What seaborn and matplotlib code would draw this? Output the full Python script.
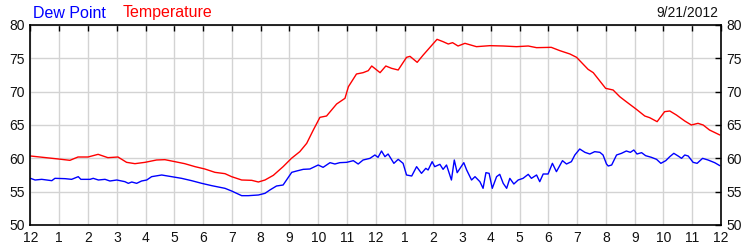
import matplotlib
matplotlib.use("Agg")
import matplotlib.pyplot as plt
import seaborn as sns
import pandas as pd

# Hours after midnight (9/21/2012) and readings in degrees F
temp_hours = [0.0, 0.97, 1.37, 1.65, 2.0, 2.35, 2.69, 3.04, 3.34, 3.63, 3.98, 4.38, 4.67,
              5.02, 5.36, 5.72, 6.06, 6.41, 6.76, 6.99, 7.34, 7.69, 7.92, 8.15, 8.44, 8.78,
              9.07, 9.36, 9.6, 9.83, 10.06, 10.29, 10.64, 10.93, 11.05, 11.33, 11.56, 11.74,
              11.86, 12.15, 12.35, 12.55, 12.78, 13.07, 13.19, 13.44, 13.65, 14.13, 14.34,
              14.52, 14.67, 14.86, 15.1, 15.5, 15.97, 16.43, 16.89, 17.3, 17.59, 18.1, 18.4,
              18.75, 18.98, 19.38, 19.56, 19.99, 20.25, 20.48, 20.66, 21.06, 21.35, 21.52,
              21.78, 22.04, 22.22, 22.45, 22.74, 22.97, 23.2, 23.38, 23.6, 23.96]
temp_values = [60.35, 59.9, 59.7, 60.2, 60.2, 60.6, 60.1, 60.2, 59.4, 59.2, 59.4, 59.75, 59.8,
               59.5, 59.2, 58.75, 58.4, 57.9, 57.7, 57.25, 56.75, 56.7, 56.45, 56.75, 57.45, 58.75,
               60.0, 61.0, 62.25, 64.25, 66.15, 66.35, 68.15, 69.0, 70.75, 72.65, 72.85, 73.15,
               73.85, 72.85, 73.85, 73.5, 73.25, 75.15, 75.3, 74.4, 75.5, 77.85, 77.5,
               77.15, 77.35, 76.85, 77.25, 76.75, 76.9, 76.85, 76.75, 76.85, 76.6, 76.65, 76.15,
               75.65, 75.15, 73.35, 72.85, 70.5, 70.25, 69.25, 68.65, 67.35, 66.35, 66.1,
               65.5, 67.0, 67.1, 66.5, 65.6, 65.0, 65.25, 65.0, 64.25, 63.5]

dew_hours = [0.0, 0.16, 0.39, 0.74, 0.85, 1.2, 1.43, 1.66, 1.75, 2.07, 2.18, 2.36, 2.59, 2.76,
             3.0, 3.28, 3.4, 3.52, 3.69, 3.86, 4.04, 4.21, 4.56, 4.91, 5.25, 5.6, 5.95, 6.3,
             6.76, 6.99, 7.34, 7.57, 7.92, 8.15, 8.32, 8.55, 8.78, 9.08, 9.25, 9.48, 9.71,
             10.0, 10.17, 10.41, 10.58, 10.75, 10.99, 11.22, 11.39, 11.56, 11.8, 11.97, 12.08,
             12.2, 12.32, 12.43, 12.63, 12.78, 12.95, 13.07, 13.25, 13.42, 13.59, 13.74, 13.82,
             13.96, 14.05, 14.23, 14.34, 14.46, 14.63, 14.73, 14.83, 15.06, 15.16, 15.33, 15.45,
             15.62, 15.73, 15.83, 15.94, 16.05, 16.2, 16.31, 16.43, 16.55, 16.66, 16.8, 16.95,
             17.12, 17.3, 17.41, 17.59, 17.7, 17.82, 17.99, 18.14, 18.28, 18.49, 18.63, 18.8,
             18.92, 19.09, 19.27, 19.44, 19.61, 19.79, 19.9, 20.02, 20.08, 20.2, 20.37, 20.54,
             20.71, 20.85, 20.97, 21.08, 21.24, 21.38, 21.58, 21.76, 21.91, 22.08, 22.22, 22.36,
             22.51, 22.63, 22.74, 22.86, 23.03, 23.17, 23.36, 23.55, 23.78, 23.96]
dew_values = [57.0, 56.75, 56.85, 56.65, 57.0, 56.95, 56.85, 57.25, 56.85, 56.85, 57.0, 56.75, 56.85, 56.6,
              56.75, 56.5, 56.25, 56.45, 56.25, 56.6, 56.75, 57.25, 57.5, 57.25, 57.0, 56.65, 56.25, 55.9,
              55.5, 55.1, 54.4, 54.4, 54.5, 54.75, 55.25, 55.85, 56.0, 57.9, 58.1, 58.35, 58.4,
              59.0, 58.65, 59.35, 59.15, 59.35, 59.4, 59.65, 59.15, 59.75, 60.0, 60.5, 60.15,
              61.1, 60.25, 60.65, 59.25, 59.85, 59.25, 57.5, 57.35, 58.75, 57.75, 58.5, 58.25,
              59.5, 58.75, 59.1, 58.35, 59.0, 56.75, 59.75, 57.85, 59.35, 58.25, 56.75, 57.25,
              56.5, 55.5, 57.85, 57.75, 55.5, 57.25, 57.6, 56.25, 55.5, 57.0, 56.15, 56.75,
              57.0, 57.6, 57.0, 57.5, 56.5, 57.65, 57.65, 59.25, 58.0, 59.65, 59.15, 59.5,
              60.5, 61.4, 60.9, 60.65, 61.0, 60.9, 60.5, 59.15, 58.85, 59.0, 60.5, 60.75,
              61.1, 60.9, 61.25, 60.65, 60.85, 60.4, 60.15, 59.85, 59.25, 59.65, 60.25, 60.75,
              60.35, 60.0, 60.5, 60.35, 59.4, 59.25, 60.0, 59.75, 59.35, 58.9]

x_tick_labels = ["12", "1", "2", "3", "4", "5", "6", "7", "8", "9", "10", "11",
                 "12", "1", "2", "3", "4", "5", "6", "7", "8", "9", "10", "11", "12"]
y_ticks = [50, 55, 60, 65, 70, 75, 80]
series_names = ["Dew Point", "Temperature"]
date_label = "9/21/2012"

sns.set_style("white")
plt.rcParams["font.family"] = ["Liberation Sans", "DejaVu Sans"]

fig = plt.figure(figsize=(7.5, 2.5), dpi=100)
ax = fig.add_axes([30.5 / 750, 25 / 250, (721 - 30.5) / 750, 200 / 250])

temp_df = pd.DataFrame({"hour": temp_hours, "value": temp_values})
dew_df = pd.DataFrame({"hour": dew_hours, "value": dew_values})

sns.lineplot(data=temp_df, x="hour", y="value", color="#ff0000", linewidth=1.0, ax=ax)
sns.lineplot(data=dew_df, x="hour", y="value", color="#0000ff", linewidth=1.0, ax=ax)

ax.set_xlim(0, 24)
ax.set_ylim(50, 80)
ax.set_xticks(range(25))
ax.set_xticklabels(x_tick_labels)
ax.set_yticks(y_ticks)
ax.set_yticklabels([str(v) for v in y_ticks])
ax.set_xlabel("")
ax.set_ylabel("")
ax.grid(True, color="#d3d3d3", linewidth=1.0)
ax.set_axisbelow(True)
for s in ax.spines.values():
    s.set_visible(True)
    s.set_color("black")
    s.set_linewidth(1.2)
ax.tick_params(axis="both", which="both", direction="in", length=4, width=1,
               color="black", labelsize=10, labelcolor="#111111",
               top=True, right=True, labelright=True, pad=4)

fig.text(33 / 750, 1 - 13 / 250, series_names[0], color="#0000ff", fontsize=11.5,
         ha="left", va="center")
fig.text(123 / 750, 1 - 13 / 250, series_names[1], color="#ff0000", fontsize=11.5,
         ha="left", va="center")
fig.text(718 / 750, 1 - 13 / 250, date_label, color="#111111", fontsize=10,
         ha="right", va="center")

fig.savefig("out.png", dpi=100)
